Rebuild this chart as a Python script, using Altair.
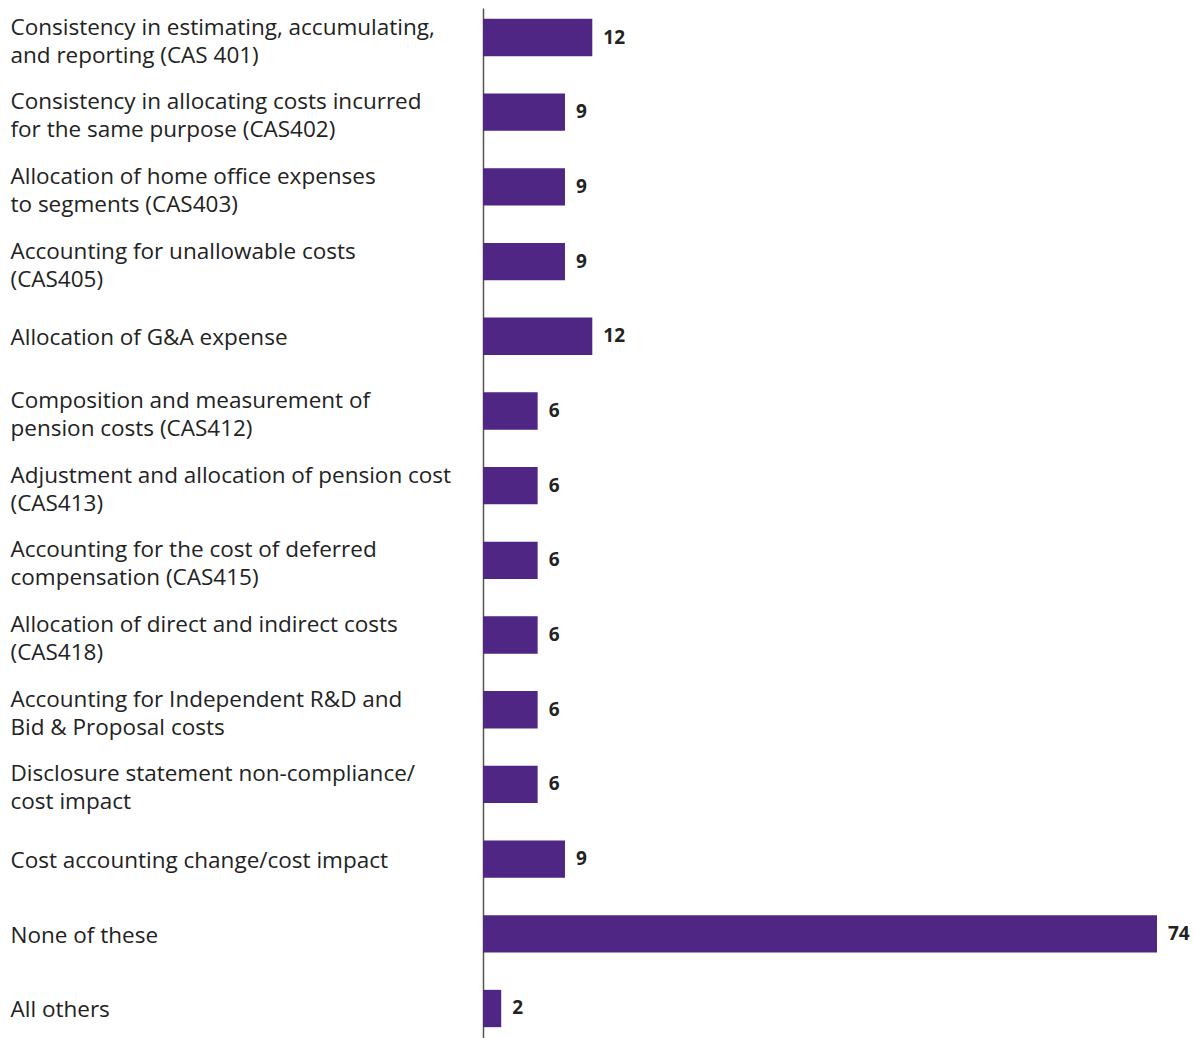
import altair as alt
import pandas as pd

categories = [
    "Consistency in estimating, accumulating,|and reporting (CAS 401)",
    "Consistency in allocating costs incurred|for the same purpose (CAS402)",
    "Allocation of home office expenses|to segments (CAS403)",
    "Accounting for unallowable costs|(CAS405)",
    "Allocation of G&A expense",
    "Composition and measurement of|pension costs (CAS412)",
    "Adjustment and allocation of pension cost|(CAS413)",
    "Accounting for the cost of deferred|compensation (CAS415)",
    "Allocation of direct and indirect costs|(CAS418)",
    "Accounting for Independent R&D and|Bid & Proposal costs",
    "Disclosure statement non-compliance/|cost impact",
    "Cost accounting change/cost impact",
    "None of these",
    "All others",
]
values = [12, 9, 9, 9, 12, 6, 6, 6, 6, 6, 6, 9, 74, 2]

df = pd.DataFrame({"category": categories, "value": values})

FONT = "Open Sans"

y_enc = alt.Y(
    "category:N",
    sort=categories,
    title=None,
    scale=alt.Scale(paddingInner=0.5, paddingOuter=0.145),
    axis=alt.Axis(
        labelExpr="split(datum.label, '|')",
        labelAlign="left",
        labelBaseline="middle",
        labelPadding=473,
        labelLimit=480,
        labelOffset={
            "condition": {"test": "indexof(datum.value, '|') >= 0", "value": -10},
            "value": 2,
        },
        labelFont=FONT,
        labelFontSize=22.5,
        labelLineHeight=28,
        labelColor="#222222",
        ticks=False,
        tickSize=0,
        domainColor="#555555",
        domainWidth=1.5,
        grid=False,
    ),
)

x_enc = alt.X(
    "value:Q",
    axis=None,
    scale=alt.Scale(domain=[0, 74], nice=False),
)

bars = alt.Chart(df).mark_bar(color="#4F2683").encode(y=y_enc, x=x_enc)

labels = alt.Chart(df).mark_text(
    align="left",
    baseline="middle",
    dx=11,
    font=FONT,
    fontSize=19,
    fontWeight="bold",
    color="#222222",
).encode(y=alt.Y("category:N", sort=categories), x=alt.X("value:Q"), text="value:Q")

chart = (
    alt.layer(bars, labels)
    .properties(
        width=674,
        height=1030,
        padding={"left": 10, "top": 8, "right": 0, "bottom": 0},
        background="white",
    )
    .configure_view(stroke=None)
)

chart.save("out.html", embed_options={"renderer": "svg", "actions": False})
